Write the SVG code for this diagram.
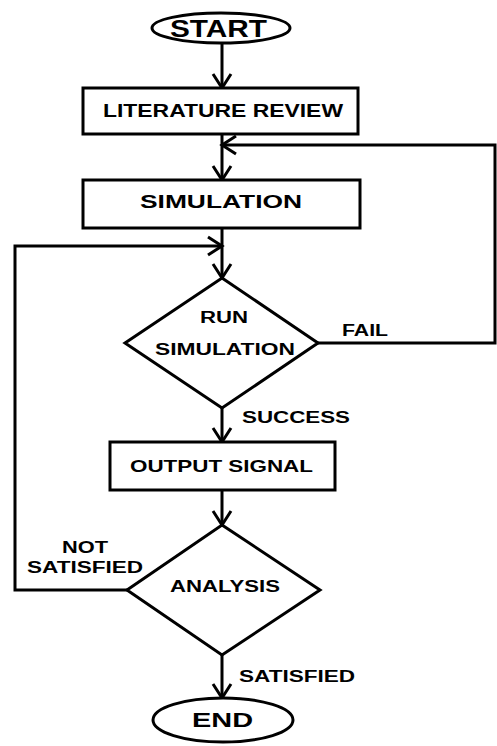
<svg xmlns="http://www.w3.org/2000/svg" width="497" height="746" viewBox="0 0 497 746">
<style>
.shape{fill:#fff;stroke:#000;stroke-width:3}
.conn{fill:none;stroke:#000;stroke-width:3}
.t{font-family:"Liberation Sans",Arial,sans-serif;font-weight:bold;fill:#000}
.tn{font-family:"Liberation Sans",Arial,sans-serif;font-weight:bold;fill:#000}
</style>
<defs>
<marker id="arr" markerUnits="userSpaceOnUse" viewBox="-16 -12 20 24" refX="0" refY="0" markerWidth="20" markerHeight="24" orient="auto">
<path d="M-14,-9 L0,0 L-14,9" fill="none" stroke="#000" stroke-width="3"/>
</marker>
</defs>
<rect width="497" height="746" fill="#fff"/>
<g id="connectors">
<path class="conn" d="M222,43 V88" marker-end="url(#arr)"/>
<path class="conn" d="M222,134 V180" marker-end="url(#arr)"/>
<path class="conn" d="M318,343 H495 V145 H222" marker-end="url(#arr)"/>
<path class="conn" d="M222,228 V278" marker-end="url(#arr)"/>
<path class="conn" d="M127,590 H15 V246 H222" marker-end="url(#arr)"/>
<path class="conn" d="M222,408 V442" marker-end="url(#arr)"/>
<path class="conn" d="M222,490 V525" marker-end="url(#arr)"/>
<path class="conn" d="M222,655 V698" marker-end="url(#arr)"/>
<text class="t" x="342" y="336" font-size="16" textLength="46" lengthAdjust="spacingAndGlyphs">FAIL</text>
<text class="t" x="242" y="423" font-size="16" textLength="108" lengthAdjust="spacingAndGlyphs">SUCCESS</text>
<text class="t" x="62" y="553" font-size="16" textLength="46" lengthAdjust="spacingAndGlyphs">NOT</text>
<text class="t" x="27" y="573" font-size="16" textLength="116" lengthAdjust="spacingAndGlyphs">SATISFIED</text>
<text class="t" x="239" y="682" font-size="16" textLength="116" lengthAdjust="spacingAndGlyphs">SATISFIED</text>
</g>
<g id="start">
<ellipse class="shape" cx="221" cy="28" rx="69" ry="15"/>
<text class="tn" x="170" y="37" font-size="24" textLength="97" lengthAdjust="spacingAndGlyphs">START</text>
</g>
<g id="literature-review">
<rect class="shape" x="83" y="88" width="275" height="46"/>
<text class="t" x="103" y="117" font-size="18" textLength="240" lengthAdjust="spacingAndGlyphs">LITERATURE REVIEW</text>
</g>
<g id="simulation">
<rect class="shape" x="83" y="180" width="277" height="48"/>
<text class="t" x="140" y="208" font-size="18" textLength="162" lengthAdjust="spacingAndGlyphs">SIMULATION</text>
</g>
<g id="run-simulation">
<polygon class="shape" points="222,278 318,343 222,408 125,343"/>
<text class="t" x="200" y="323" font-size="16" textLength="48" lengthAdjust="spacingAndGlyphs">RUN</text>
<text class="t" x="155" y="355" font-size="16" textLength="140" lengthAdjust="spacingAndGlyphs">SIMULATION</text>
</g>
<g id="output-signal">
<rect class="shape" x="110" y="442" width="225" height="48"/>
<text class="t" x="130" y="472" font-size="17" textLength="183" lengthAdjust="spacingAndGlyphs">OUTPUT SIGNAL</text>
</g>
<g id="analysis">
<polygon class="shape" points="222,525 320,590 222,655 127,590"/>
<text class="t" x="170" y="592" font-size="16" textLength="110" lengthAdjust="spacingAndGlyphs">ANALYSIS</text>
</g>
<g id="end">
<ellipse class="shape" cx="223" cy="720" rx="70" ry="22"/>
<text class="tn" x="192" y="727" font-size="20" textLength="61" lengthAdjust="spacingAndGlyphs">END</text>
</g>
</svg>
